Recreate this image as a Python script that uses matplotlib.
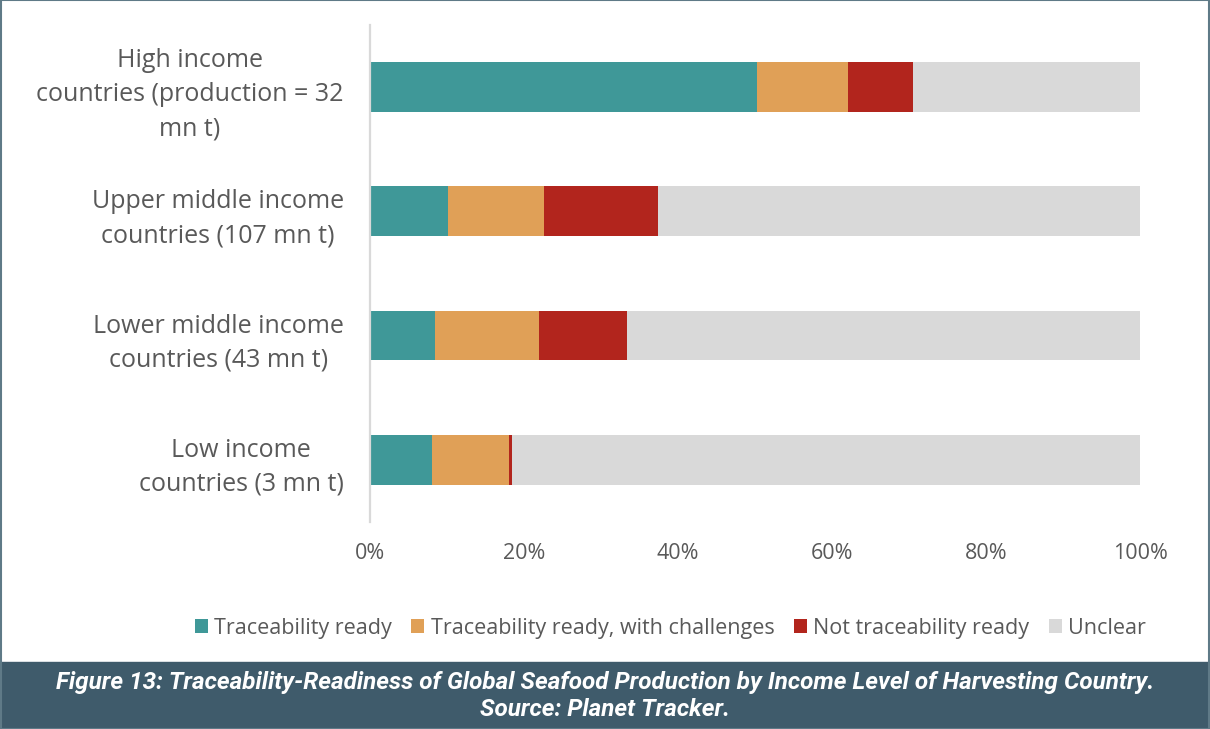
import matplotlib
matplotlib.use("Agg")
from matplotlib import pyplot as plt
from matplotlib.patches import Rectangle
from matplotlib.transforms import ScaledTranslation
import numpy as np

categorias = [
    "High income\ncountries (production = 32\nmn t)",
    "Upper middle income\ncountries (107 mn t)",
    "Lower middle income\ncountries (43 mn t)",
    "Low income\ncountries (3 mn t)",
]
pronto = [50.3, 10.1, 8.4, 8.1]
pronto_desafios = [11.8, 12.5, 13.5, 10.0]
nao_pronto = [8.4, 14.8, 11.5, 0.3]
incerto = [29.5, 62.6, 66.6, 81.6]

series = ["Traceability ready", "Traceability ready, with challenges",
          "Not traceability ready", "Unclear"]
cores = ["#3f9898", "#e0a057", "#b2251d", "#d9d9d9"]
ticks_x = [0, 20, 40, 60, 80, 100]
texto = "#595959"

plt.rcParams['font.family'] = ['Open Sans', 'DejaVu Sans']

fig = plt.figure(figsize=(12.1, 7.29), dpi=100)
ax = fig.add_axes([0.3058, 0.284, 0.6364, 0.682])

y = np.arange(len(categorias))[::-1]
esquerda = np.zeros(len(categorias))
for valores, nome, cor in zip([pronto, pronto_desafios, nao_pronto, incerto], series, cores):
    ax.barh(y, valores, left=esquerda, height=0.4, color=cor, label=nome)
    esquerda += np.array(valores)

ax.set_xlim(0, 100)
ax.set_ylim(-0.5, 3.5)
ax.set_yticks(y)
ax.set_yticklabels(categorias, fontsize=18, color=texto, linespacing=1.48,
                   multialignment="center")
# sobe um pouco os rótulos para centrar nas barras
for rotulo in ax.get_yticklabels():
    rotulo.set_transform(rotulo.get_transform() + ScaledTranslation(0, 4 / 100, fig.dpi_scale_trans))
ax.set_xticks(ticks_x)
ax.set_xticklabels([f"{t}%" for t in ticks_x], fontsize=15.5, color=texto)
ax.tick_params(axis="y", length=0, pad=19)
ax.tick_params(axis="x", length=0, pad=15)
for lado in ["top", "right", "bottom"]:
    ax.spines[lado].set_visible(False)
ax.spines["left"].set_color("#d9d9d9")
ax.spines["left"].set_linewidth(1.6)

fig.legend(loc="center", bbox_to_anchor=(0.554, 0.138), ncol=4, frameon=False,
           fontsize=15.5, labelcolor=texto, handlelength=0.6, handleheight=0.6,
           handletextpad=0.3, columnspacing=0.9)

# faixa da legenda da figura
fig.patches.append(Rectangle((0, 0), 1, 0.092, transform=fig.transFigure,
                             color="#3f5b6b", zorder=0))
fig.patches.append(Rectangle((0.0005, 0.0005), 0.999, 0.999, transform=fig.transFigure,
                             fill=False, edgecolor="#5f7a87", linewidth=1.5))
legenda = ("Figure 13: Traceability-Readiness of Global Seafood Production by Income Level of Harvesting Country.\n"
           "Source: Planet Tracker.")
fig.text(0.5, 0.045, legenda, ha="center", va="center", color="white",
         fontsize=17.5, fontweight="bold", style="italic", linespacing=1.25,
         family=["Roboto", "DejaVu Sans"])

fig.savefig("out.png", dpi=100)
